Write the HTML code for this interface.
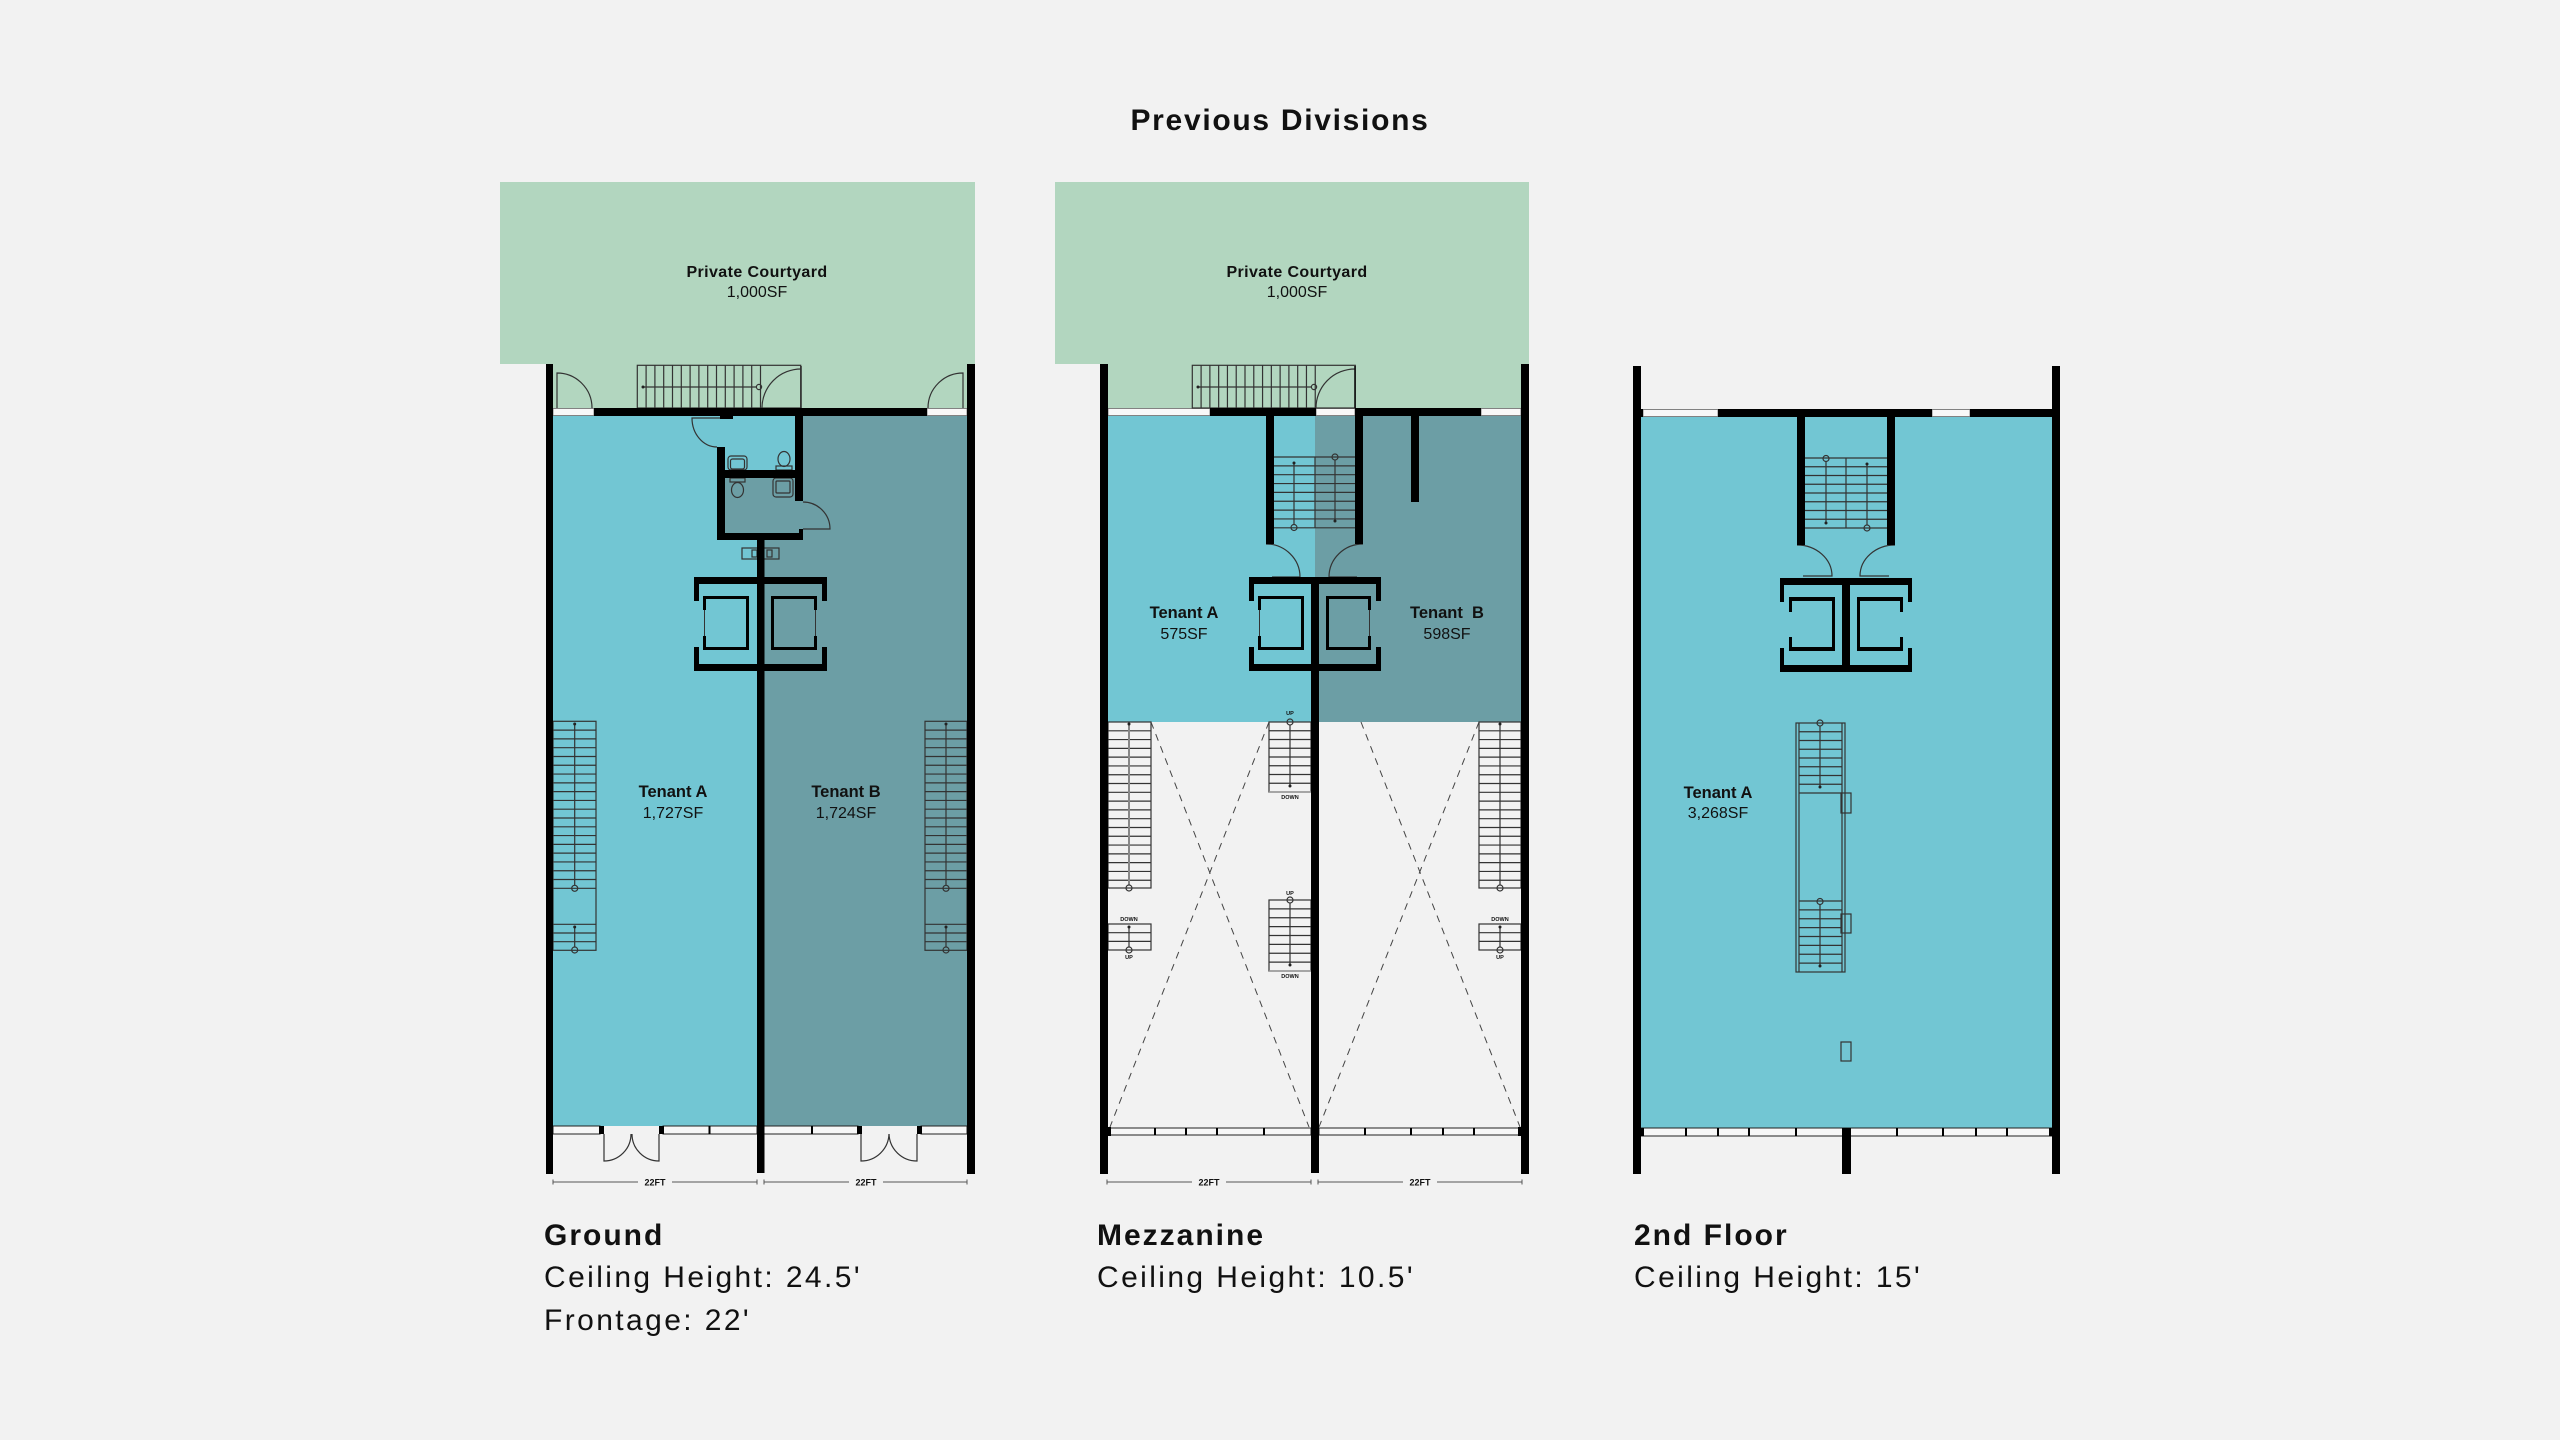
<!DOCTYPE html>
<html><head><meta charset="utf-8">
<style>
html,body{margin:0;padding:0;background:#f2f2f2;}
svg{display:block;}
text{font-family:"Liberation Sans",Arial,sans-serif;}
</style></head><body>
<svg width="2560" height="1440" viewBox="0 0 2560 1440" xmlns="http://www.w3.org/2000/svg">
<rect width="2560" height="1440" fill="#f2f2f2"/>
<text x="1280" y="130" font-size="30" font-weight="bold" text-anchor="middle" letter-spacing="1.7" fill="#111">Previous Divisions</text>

<!-- ================= GROUND ================= -->
<rect x="500" y="182" width="475" height="182" fill="#b2d6bf"/>
<rect x="553" y="364" width="414" height="44" fill="#b2d6bf"/>
<rect x="553" y="416" width="414" height="710" fill="#72c6d3"/>
<rect x="803" y="416" width="164" height="124" fill="#6c9ea5"/>
<rect x="760" y="540" width="207" height="586" fill="#6c9ea5"/>
<rect x="725" y="478" width="78" height="55" fill="#6c9ea5"/>
<rect x="553" y="408.5" width="41" height="7" fill="#f8f8f8" stroke="#666" stroke-width="0.8"/>
<rect x="927" y="408.5" width="40" height="7" fill="#f8f8f8" stroke="#666" stroke-width="0.8"/>

<g fill="none" stroke="#333" stroke-width="1.2">
  <rect x="637.3" y="365.3" width="163.4" height="42.7"/>
  <path d="M646.1 365.3v42.7m8.8 -42.7v42.7m8.8 -42.7v42.7m8.8 -42.7v42.7m8.8 -42.7v42.7m8.8 -42.7v42.7m8.8 -42.7v42.7m8.8 -42.7v42.7m8.8 -42.7v42.7m8.8 -42.7v42.7m8.8 -42.7v42.7m8.8 -42.7v42.7m8.8 -42.7v42.7m8.8 -42.7v42.7"/>
  <path d="M643 387H756"/>
  <circle cx="759" cy="387" r="2.6"/>
  <path d="M557,408 V373 A35,35 0 0 1 592,408"/>
  <path d="M963,408 V373 A35,35 0 0 0 928,408"/>
  <path d="M801,369 A39,39 0 0 0 762,408"/>
  <path d="M801,366 V408" stroke-width="1.6"/>
  <path d="M720,418 H692 A25,29 0 0 0 717,447"/>
  <path d="M803,529 H830 A27,27 0 0 0 803,502"/>
  <!-- fixtures -->
  <rect x="728" y="456" width="19" height="14" rx="3"/>
  <rect x="730.5" y="459" width="14" height="10" rx="2"/>
  <rect x="776" y="466" width="16" height="4"/>
  <ellipse cx="784" cy="459" rx="6" ry="7.5"/>
  <rect x="730" y="478" width="15" height="4"/>
  <ellipse cx="737.5" cy="490" rx="6" ry="7.5"/>
  <rect x="773" y="478" width="20" height="19" rx="3"/>
  <rect x="776" y="481" width="14" height="12" rx="1"/>
  <rect x="742" y="548" width="37" height="11"/>
  <rect x="752" y="550" width="5" height="7"/>
  <rect x="767" y="550" width="5" height="7"/>
  <!-- side stairs -->
  <rect x="553" y="721.3" width="43" height="229"/>
  <path d="M553 730.1h43m-43 8.79h43m-43 8.79h43m-43 8.79h43m-43 8.79h43m-43 8.79h43m-43 8.79h43m-43 8.79h43m-43 8.79h43m-43 8.79h43m-43 8.79h43m-43 8.79h43m-43 8.79h43m-43 8.79h43m-43 8.79h43m-43 8.79h43m-43 8.79h43m-43 8.79h43m-43 8.79h43M553 924.3h43m-43 8.7h43m-43 8.7h43"/>
  <path d="M574.7 724V885M574.7 927V947"/>
  <circle cx="574.7" cy="888.3" r="3"/>
  <circle cx="574.7" cy="950" r="3"/>
  <rect x="925" y="721.3" width="42" height="229"/>
  <path d="M925 730.1h42m-42 8.79h42m-42 8.79h42m-42 8.79h42m-42 8.79h42m-42 8.79h42m-42 8.79h42m-42 8.79h42m-42 8.79h42m-42 8.79h42m-42 8.79h42m-42 8.79h42m-42 8.79h42m-42 8.79h42m-42 8.79h42m-42 8.79h42m-42 8.79h42m-42 8.79h42m-42 8.79h42M925 924.3h42m-42 8.7h42m-42 8.7h42"/>
  <path d="M946 724V885M946 927V947"/>
  <circle cx="946" cy="888.3" r="3"/>
  <circle cx="946" cy="950" r="3"/>
  <!-- front doors -->
  <path d="M604,1134 V1161 A27,27 0 0 0 631,1134"/>
  <path d="M659,1134 V1161 A27,27 0 0 1 632,1134"/>
  <path d="M861,1134 V1161 A28,28 0 0 0 889,1134"/>
  <path d="M917,1134 V1161 A28,28 0 0 1 889,1134"/>
</g>
<g fill="#222"><circle cx="574.7" cy="724" r="1.5"/><circle cx="574.7" cy="927" r="1.5"/><circle cx="946" cy="724" r="1.5"/><circle cx="946" cy="927" r="1.5"/><circle cx="643" cy="387" r="1.5"/></g>
<!-- windows -->
<g fill="#f7f7f7" stroke="#222" stroke-width="1">
  <rect x="553" y="1126" width="47" height="8"/>
  <rect x="663" y="1126" width="94" height="8"/>
  <rect x="764" y="1126" width="94" height="8"/>
  <rect x="921" y="1126" width="46" height="8"/>
</g>
<g fill="#000">
  <rect x="599" y="1126" width="5" height="8"/><rect x="659" y="1126" width="5" height="8"/>
  <rect x="857" y="1126" width="5" height="8"/><rect x="917" y="1126" width="5" height="8"/>
  <rect x="708.5" y="1126" width="2" height="8"/><rect x="811" y="1126" width="2" height="8"/>
  <!-- walls -->
  <rect x="546" y="364" width="7" height="810"/>
  <rect x="967" y="364" width="8" height="810"/>
  <rect x="594" y="408" width="333" height="8"/>
  <rect x="795" y="416" width="8" height="85"/>
  <rect x="717" y="447" width="8" height="93"/>
  <rect x="725" y="470" width="70" height="8"/>
  <rect x="717" y="533" width="86" height="7"/>
  <rect x="799" y="529" width="4" height="4"/>
  <rect x="720" y="415" width="13" height="4"/>
  <rect x="757" y="540" width="7.5" height="633"/>
  <!-- elevator frame -->
  <rect x="694" y="577" width="133" height="7"/>
  <rect x="694" y="664" width="133" height="7"/>
  <rect x="694" y="577" width="5" height="24"/><rect x="694" y="647" width="5" height="24"/>
  <rect x="822" y="577" width="5" height="24"/><rect x="822" y="647" width="5" height="24"/>
  <rect x="703" y="596" width="46" height="3"/><rect x="703" y="647" width="46" height="3"/>
  <rect x="746" y="596" width="3" height="54"/>
  <rect x="703" y="596" width="3" height="14"/><rect x="703" y="636" width="3" height="14"/>
  <rect x="771" y="596" width="46" height="3"/><rect x="771" y="647" width="46" height="3"/>
  <rect x="771" y="596" width="3" height="54"/>
  <rect x="814" y="596" width="3" height="14"/><rect x="814" y="636" width="3" height="14"/>
</g>
<path d="M704.5 610V636M815.5 610V636" stroke="#333" stroke-width="1"/>
<!-- dims -->
<g stroke="#555" stroke-width="1" fill="none">
  <path d="M553 1182H638M672 1182H757M553 1179.5V1184.5M757 1179.5V1184.5"/>
  <path d="M764 1182H849M883 1182H967M764 1179.5V1184.5M967 1179.5V1184.5"/>
</g>
<g font-size="9" font-weight="bold" fill="#111" text-anchor="middle">
  <text x="655" y="1185.5">22FT</text><text x="866" y="1185.5">22FT</text>
</g>
<g fill="#111" text-anchor="middle">
  <text x="757" y="277" font-size="16" font-weight="bold" letter-spacing="0.4">Private Courtyard</text>
  <text x="757" y="297" font-size="16">1,000SF</text>
  <text x="673" y="797" font-size="16.5" font-weight="bold">Tenant A</text>
  <text x="673" y="818" font-size="16">1,727SF</text>
  <text x="846" y="797" font-size="16.5" font-weight="bold">Tenant B</text>
  <text x="846" y="818" font-size="16">1,724SF</text>
</g>

<!-- ================= MEZZANINE ================= -->
<rect x="1055" y="182" width="474" height="182" fill="#b2d6bf"/>
<rect x="1108" y="364" width="413" height="44" fill="#b2d6bf"/>
<rect x="1108" y="416" width="207" height="306" fill="#72c6d3"/>
<rect x="1315" y="416" width="206" height="306" fill="#6c9ea5"/>
<g fill="#f8f8f8" stroke="#666" stroke-width="0.8">
  <rect x="1108" y="408.5" width="102" height="7"/>
  <rect x="1316" y="408.5" width="39" height="7"/>
  <rect x="1481" y="408.5" width="40" height="7"/>
</g>
<g fill="none" stroke="#333" stroke-width="1.2">
  <rect x="1192.3" y="365.3" width="163" height="42.7"/>
  <path d="M1201.1 365.3v42.7m8.78 -42.7v42.7m8.78 -42.7v42.7m8.78 -42.7v42.7m8.78 -42.7v42.7m8.78 -42.7v42.7m8.78 -42.7v42.7m8.78 -42.7v42.7m8.78 -42.7v42.7m8.78 -42.7v42.7m8.78 -42.7v42.7m8.78 -42.7v42.7m8.78 -42.7v42.7m8.78 -42.7v42.7"/>
  <path d="M1198 387H1311"/>
  <circle cx="1314" cy="387" r="2.6"/>
  <path d="M1355,369 A39,39 0 0 0 1316,408"/>
  <path d="M1266,544 A34,33 0 0 1 1300,577 H1272"/>
  <path d="M1363,544 A34,33 0 0 0 1329,577 H1357"/>
  <!-- core stair -->
  <path d="M1274 457h81m-81 8.85h81m-81 8.85h81m-81 8.85h81m-81 8.85h81m-81 8.85h81m-81 8.85h81m-81 8.85h81m-81 8.85h81"/>
  <path d="M1315 457V528M1294 463V524.5M1335 460V521"/>
  <circle cx="1294" cy="527.5" r="3"/>
  <circle cx="1335" cy="457" r="3"/>
  <!-- left stair -->
  <rect x="1108" y="722" width="43" height="166"/>
  <path d="M1108 730.79h43m-43 8.79h43m-43 8.79h43m-43 8.79h43m-43 8.79h43m-43 8.79h43m-43 8.79h43m-43 8.79h43m-43 8.79h43m-43 8.79h43m-43 8.79h43m-43 8.79h43m-43 8.79h43m-43 8.79h43m-43 8.79h43m-43 8.79h43m-43 8.79h43m-43 8.79h43"/>
  <rect x="1108" y="924" width="43" height="26"/>
  <path d="M1108 932.7h43m-43 8.7h43"/>
  <path d="M1129 927V947"/>
  <circle cx="1129" cy="950" r="3"/>
  <!-- right stair -->
  <rect x="1479" y="722" width="42" height="166"/>
  <path d="M1479 730.79h42m-42 8.79h42m-42 8.79h42m-42 8.79h42m-42 8.79h42m-42 8.79h42m-42 8.79h42m-42 8.79h42m-42 8.79h42m-42 8.79h42m-42 8.79h42m-42 8.79h42m-42 8.79h42m-42 8.79h42m-42 8.79h42m-42 8.79h42m-42 8.79h42m-42 8.79h42"/>
  <rect x="1479" y="924" width="42" height="26"/>
  <path d="M1479 932.7h42m-42 8.7h42"/>
  <path d="M1500 724V885M1500 927V947"/>
  <circle cx="1500" cy="888" r="3"/>
  <circle cx="1500" cy="950" r="3"/>
  <!-- middle stairs -->
  <rect x="1269" y="722" width="42" height="70"/>
  <path d="M1269 730.75h42m-42 8.75h42m-42 8.75h42m-42 8.75h42m-42 8.75h42m-42 8.75h42m-42 8.75h42"/>
  <path d="M1290 725V786"/>
  <circle cx="1290" cy="722" r="3"/>
  <rect x="1269" y="900" width="42" height="71"/>
  <path d="M1269 908.9h42m-42 8.875h42m-42 8.875h42m-42 8.875h42m-42 8.875h42m-42 8.875h42m-42 8.875h42"/>
  <path d="M1290 903V965"/>
  <circle cx="1290" cy="900" r="3"/>
</g>
<path d="M1129 724V885" stroke="#888" stroke-width="2"/>
<circle cx="1129" cy="888" r="3" fill="none" stroke="#333" stroke-width="1.2"/>
<path d="M1355,366 V408" stroke="#111" stroke-width="1.6"/>
<g fill="#222"><circle cx="1294" cy="463" r="1.5"/><circle cx="1335" cy="521" r="1.5"/><circle cx="1129" cy="724" r="1.5"/><circle cx="1129" cy="927" r="1.5"/><circle cx="1500" cy="724" r="1.5"/><circle cx="1500" cy="927" r="1.5"/><circle cx="1290" cy="786" r="1.5"/><circle cx="1290" cy="965" r="1.5"/><circle cx="1198" cy="387" r="1.5"/></g>
<path d="M1269 792H1311M1269 971H1311" stroke="#999" stroke-width="1.5"/>
<g font-size="5.5" font-weight="bold" fill="#111" text-anchor="middle">
  <text x="1129" y="921">DOWN</text><text x="1129" y="959">UP</text>
  <text x="1500" y="921">DOWN</text><text x="1500" y="959">UP</text>
  <text x="1290" y="715">UP</text><text x="1290" y="799">DOWN</text>
  <text x="1290" y="895">UP</text><text x="1290" y="978">DOWN</text>
</g>
<!-- void X -->
<g stroke="#444" stroke-width="1" stroke-dasharray="7 6" fill="none">
  <path d="M1151 722L1309 1127M1269 722L1110 1127"/>
  <path d="M1361 722L1520 1127M1479 722L1319 1127"/>
</g>
<g fill="#f7f7f7" stroke="#222" stroke-width="1">
  <rect x="1108" y="1128" width="203" height="7"/>
  <rect x="1319" y="1128" width="202" height="7"/>
</g>
<g fill="#000">
  <rect x="1154" y="1128" width="2" height="7"/><rect x="1185" y="1128" width="2" height="7"/>
  <rect x="1216" y="1128" width="2" height="7"/><rect x="1263" y="1128" width="2" height="7"/>
  <rect x="1364" y="1128" width="2" height="7"/><rect x="1410" y="1128" width="2" height="7"/>
  <rect x="1442" y="1128" width="2" height="7"/><rect x="1473" y="1128" width="2" height="7"/>
  <rect x="1108" y="1127" width="3" height="9"/><rect x="1518" y="1127" width="3" height="9"/>
  <rect x="1100" y="364" width="8" height="810"/>
  <rect x="1521" y="364" width="8" height="810"/>
  <rect x="1210" y="408" width="106" height="8"/>
  <rect x="1355" y="408" width="126" height="8"/>
  <rect x="1266" y="416" width="8" height="128"/>
  <rect x="1355" y="408" width="8" height="136"/>
  <rect x="1411" y="416" width="8" height="86"/>
  <rect x="1311" y="577" width="8" height="596"/>
  <rect x="1249" y="577" width="132" height="7"/>
  <rect x="1249" y="664" width="132" height="7"/>
  <rect x="1249" y="577" width="5" height="24"/><rect x="1249" y="647" width="5" height="24"/>
  <rect x="1376" y="577" width="5" height="24"/><rect x="1376" y="647" width="5" height="24"/>
  <rect x="1258" y="596" width="46" height="3"/><rect x="1258" y="647" width="46" height="3"/>
  <rect x="1301" y="596" width="3" height="54"/>
  <rect x="1258" y="596" width="3" height="14"/><rect x="1258" y="636" width="3" height="14"/>
  <rect x="1326" y="596" width="45" height="3"/><rect x="1326" y="647" width="45" height="3"/>
  <rect x="1326" y="596" width="3" height="54"/>
  <rect x="1368" y="596" width="3" height="14"/><rect x="1368" y="636" width="3" height="14"/>
</g>
<path d="M1259.5 610V636M1369.5 610V636" stroke="#333" stroke-width="1"/>
<g stroke="#555" stroke-width="1" fill="none">
  <path d="M1107 1182H1192M1226 1182H1311M1107 1179.5V1184.5M1311 1179.5V1184.5"/>
  <path d="M1318 1182H1403M1437 1182H1522M1318 1179.5V1184.5M1522 1179.5V1184.5"/>
</g>
<g font-size="9" font-weight="bold" fill="#111" text-anchor="middle">
  <text x="1209" y="1185.5">22FT</text><text x="1420" y="1185.5">22FT</text>
</g>
<g fill="#111" text-anchor="middle">
  <text x="1297" y="277" font-size="16" font-weight="bold" letter-spacing="0.4">Private Courtyard</text>
  <text x="1297" y="297" font-size="16">1,000SF</text>
  <text x="1184" y="618" font-size="16.5" font-weight="bold">Tenant A</text>
  <text x="1184" y="639" font-size="16">575SF</text>
  <text x="1447" y="618" font-size="16.5" font-weight="bold">Tenant&#160; B</text>
  <text x="1447" y="639" font-size="16">598SF</text>
</g>

<!-- ================= 2ND FLOOR ================= -->
<rect x="1641" y="417" width="411" height="711" fill="#72c6d3"/>
<g fill="#f8f8f8" stroke="#666" stroke-width="0.8">
  <rect x="1643" y="409.5" width="75" height="7"/>
  <rect x="1932" y="409.5" width="38" height="7"/>
</g>
<g fill="none" stroke="#333" stroke-width="1.2">
  <path d="M1805 458h82m-82 8.75h82m-82 8.75h82m-82 8.75h82m-82 8.75h82m-82 8.75h82m-82 8.75h82m-82 8.75h82m-82 8.75h82"/>
  <path d="M1846 458V528M1826 461V523M1867 464V525"/>
  <circle cx="1826" cy="458.5" r="3"/>
  <circle cx="1867" cy="528" r="3"/>
  <path d="M1797,545 A35,31 0 0 1 1832,576 H1803"/>
  <path d="M1895,545 A35,31 0 0 0 1860,576 H1889"/>
  <rect x="1796" y="723" width="49" height="249"/>
  <path d="M1799 723V972M1842 723V972"/>
  <path d="M1799 731.75h43m-43 8.75h43m-43 8.75h43m-43 8.75h43m-43 8.75h43m-43 8.75h43m-43 8.75h43m-43 8.75h43"/>
  <path d="M1799 901h43m-43 8.875h43m-43 8.875h43m-43 8.875h43m-43 8.875h43m-43 8.875h43m-43 8.875h43m-43 8.875h43"/>
  <path d="M1820 726V787M1820 904V966"/>
  <circle cx="1820" cy="723" r="3"/>
  <circle cx="1820" cy="901.5" r="3"/>
  <rect x="1841" y="793" width="10" height="20"/>
  <rect x="1841" y="914" width="10" height="19"/>
  <rect x="1841" y="1042" width="10" height="19"/>
</g>
<g fill="#222"><circle cx="1826" cy="523" r="1.5"/><circle cx="1867" cy="464" r="1.5"/><circle cx="1820" cy="787" r="1.5"/><circle cx="1820" cy="966" r="1.5"/></g>
<rect x="1641" y="1128" width="411" height="8" fill="#f7f7f7" stroke="#222" stroke-width="1"/>
<g fill="#000">
  <rect x="1685" y="1128" width="2" height="8"/><rect x="1717" y="1128" width="2" height="8"/>
  <rect x="1748" y="1128" width="2" height="8"/><rect x="1795" y="1128" width="2" height="8"/>
  <rect x="1896" y="1128" width="2" height="8"/><rect x="1942" y="1128" width="2" height="8"/>
  <rect x="1975" y="1128" width="2" height="8"/><rect x="2006" y="1128" width="2" height="8"/>
  <rect x="1641" y="1128" width="3" height="8"/><rect x="2049" y="1128" width="3" height="8"/>
  <rect x="1842" y="1128" width="9" height="46"/>
  <rect x="1633" y="366" width="8" height="808"/>
  <rect x="2052" y="366" width="8" height="808"/>
  <rect x="1718" y="409" width="214" height="8"/>
  <rect x="1970" y="409" width="82" height="8"/>
  <rect x="1641" y="409" width="2" height="8"/>
  <rect x="1797" y="417" width="8" height="128"/>
  <rect x="1887" y="417" width="8" height="128"/>
  <rect x="1780" y="578" width="132" height="7"/>
  <rect x="1780" y="665" width="132" height="7"/>
  <rect x="1780" y="578" width="4" height="24"/><rect x="1780" y="648" width="4" height="24"/>
  <rect x="1908" y="578" width="4" height="24"/><rect x="1908" y="648" width="4" height="24"/>
  <rect x="1842" y="578" width="8" height="94"/>
  <rect x="1789" y="597" width="46" height="4"/><rect x="1789" y="647" width="46" height="4"/>
  <rect x="1832" y="597" width="3" height="54"/>
  <rect x="1789" y="597" width="3" height="15"/><rect x="1789" y="637" width="3" height="14"/>
  <rect x="1857" y="597" width="46" height="4"/><rect x="1857" y="647" width="46" height="4"/>
  <rect x="1857" y="597" width="3" height="54"/>
  <rect x="1900" y="597" width="3" height="15"/><rect x="1900" y="637" width="3" height="14"/>
</g>
<g fill="#111" text-anchor="middle">
  <text x="1718" y="798" font-size="16.5" font-weight="bold">Tenant A</text>
  <text x="1718" y="818" font-size="16">3,268SF</text>
</g>

<!-- ================= BOTTOM LABELS ================= -->
<g fill="#111">
  <text x="544" y="1245" font-size="30" font-weight="bold" letter-spacing="2">Ground</text>
  <text x="544" y="1287" font-size="30" letter-spacing="2.4">Ceiling Height: 24.5'</text>
  <text x="544" y="1330" font-size="30" letter-spacing="2.4">Frontage: 22'</text>
  <text x="1097" y="1245" font-size="30" font-weight="bold" letter-spacing="2">Mezzanine</text>
  <text x="1097" y="1287" font-size="30" letter-spacing="2.4">Ceiling Height: 10.5'</text>
  <text x="1634" y="1245" font-size="30" font-weight="bold" letter-spacing="2">2nd Floor</text>
  <text x="1634" y="1287" font-size="30" letter-spacing="2.4">Ceiling Height: 15'</text>
</g>
</svg>
</body></html>
